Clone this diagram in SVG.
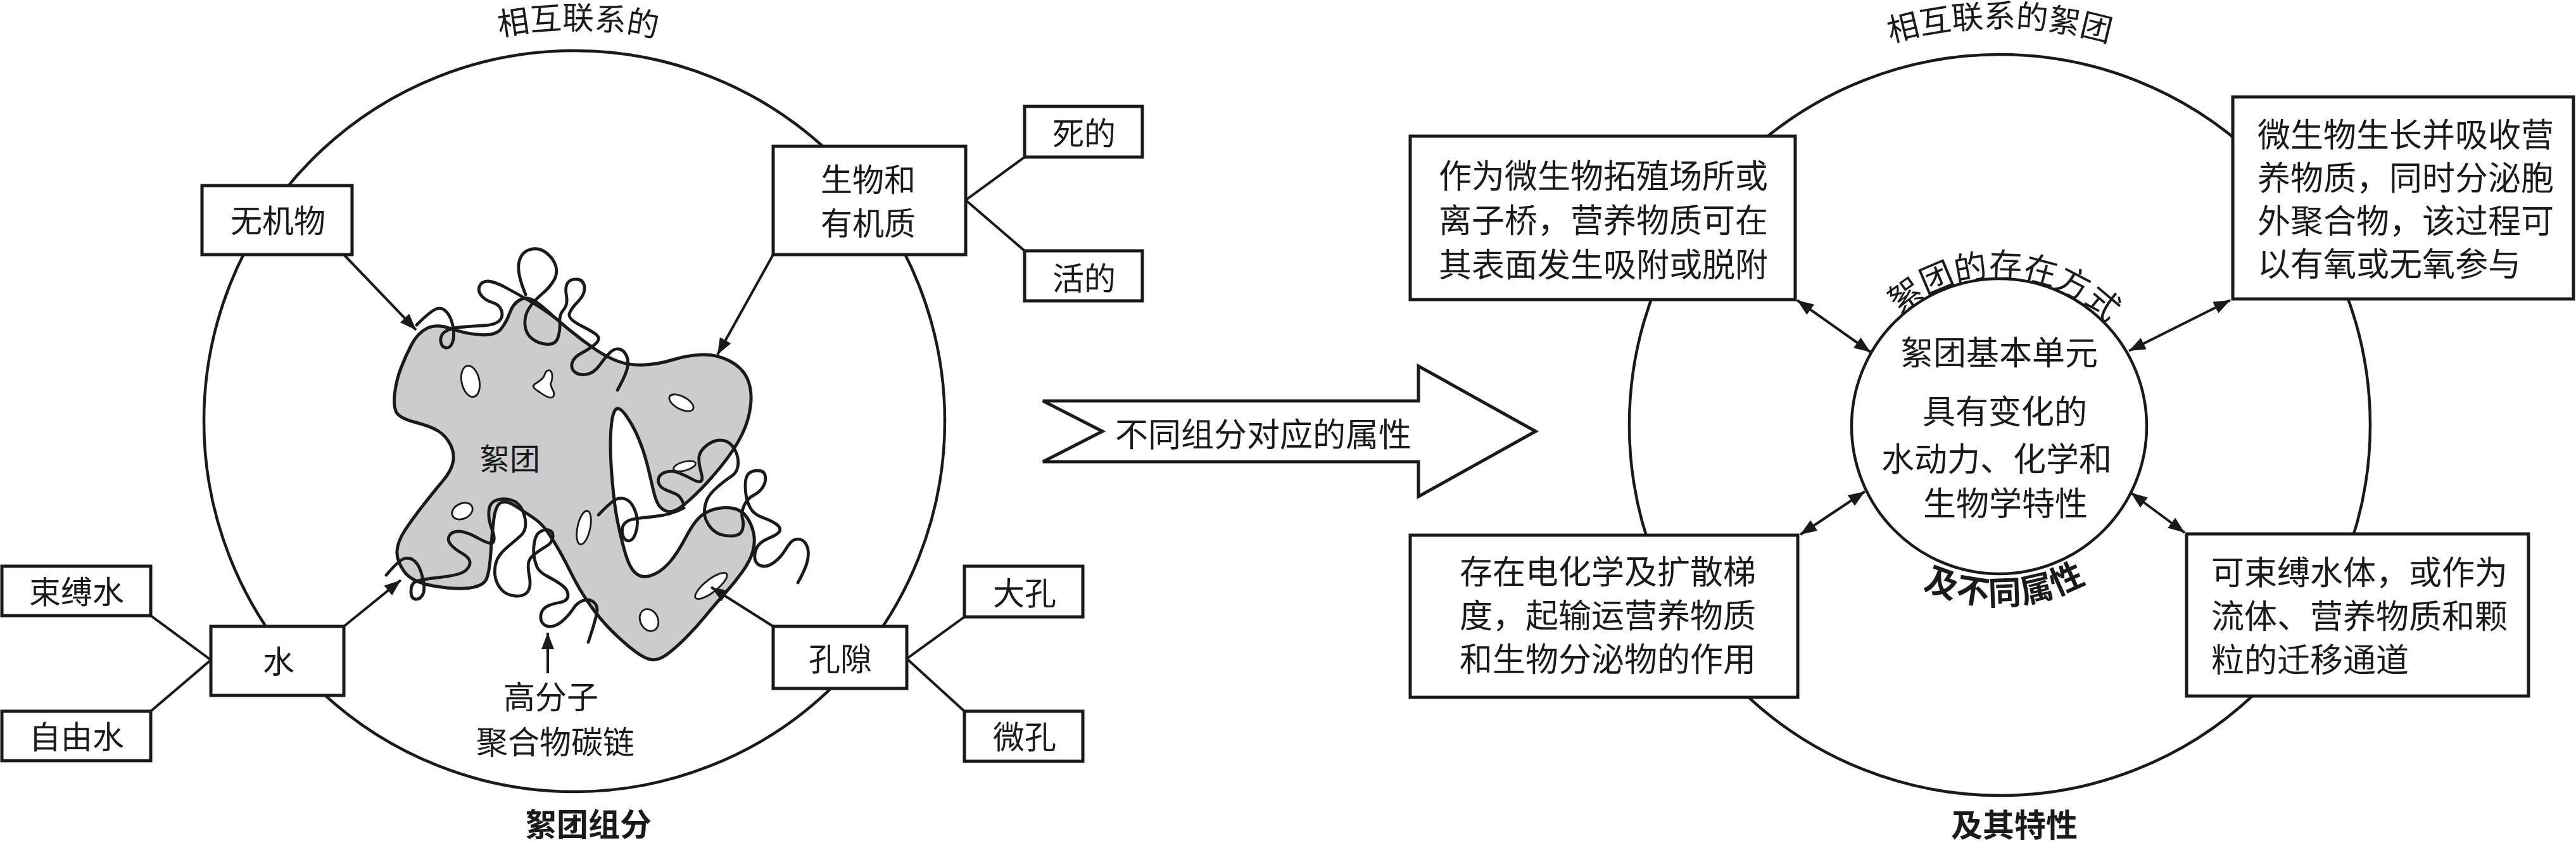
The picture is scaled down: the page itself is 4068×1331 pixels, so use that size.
<svg xmlns="http://www.w3.org/2000/svg" width="4068" height="1331" viewBox="0 0 4068 1331">
<style>
.box{fill:#fff;stroke:#1a1a1a;stroke-width:5}
.ln{stroke:#1a1a1a;stroke-width:4;fill:none}
.circ{fill:none;stroke:#1a1a1a;stroke-width:4.5}
.t{font-family:'Liberation Serif','Noto Sans CJK SC',serif;font-size:50px;fill:#1a1a1a;text-anchor:middle}
.s52{font-size:52px}
.s48{font-size:48px}
.b{font-weight:bold}
.l{text-anchor:start}
.blob{fill:#cccccc;stroke:#1a1a1a;stroke-width:5;stroke-linejoin:round}
.chain{fill:none;stroke:#1a1a1a;stroke-width:4.8;stroke-linecap:round;stroke-linejoin:round}
.hole{fill:#fff;stroke:#1a1a1a;stroke-width:2.8}
</style>
<defs>
<marker id="ah" viewBox="0 0 26 20" refX="26" refY="10" markerWidth="26" markerHeight="20" markerUnits="userSpaceOnUse" orient="auto-start-reverse">
<path d="M0,0 L26,10 L0,20 Z" fill="#1a1a1a"/>
</marker>
<path id="arcL" d="M288,665 A619,619 0 0 1 1526,665"/>
<path id="arcR" d="M2530,671 A628,628 0 0 1 3786,671"/>
<path id="arcIT" d="M2921,673 A236,236 0 0 1 3393,673"/>
<path id="arcIB" d="M2875,673 A282,282 0 0 0 3439,673"/>
</defs>
<rect width="4068" height="1331" fill="#fff"/>

<g id="left-diagram">
<circle class="circ" cx="907" cy="665" r="585"/>
<text class="t"><textPath href="#arcL" startOffset="50.3%">相互联系的</textPath></text>
<text class="t b" x="929" y="1320">絮团组分</text>
</g>

<g id="floc">
<path class="blob" d="M650,544 Q660,525 675,518 T712.5,519 T759,528.5 T791.5,519 T805,494 T820,474 T840,473 T865,491.5 T900,521.5 T940,551.5 T977.5,571 T1017.5,576 T1062.5,568 T1108,560 T1151.5,569.5 T1180,597.5 T1185.5,639 T1171.5,686.5 T1138.5,736.5 T1097.5,781.5 T1068,805 T1050,806 T1038,793.5 T1030.5,769 T1022,733 T1008.5,692.5 T988.5,656 T971.5,647.5 T964.5,684 T966.5,755 T975,822 T986,868.5 T998.5,899 T1013.5,910 T1034.5,906 T1058.5,886.5 T1083.5,847.5 T1108.5,813.5 T1135,802.5 T1161.5,803.5 T1180,817.5 T1190,841.5 T1189,870 T1172.5,902.5 T1145.5,936 T1115,971.5 T1083,1007 T1053.5,1033 T1029,1041.5 T1001,1027 T965.5,995.5 T931,954 T903.5,908 T883,869 T864.5,839.5 T841.5,817 T814,799 T791.5,793.5 T780,818.5 T775,872.5 T767.5,915.5 T740,928.5 T684,925 T638,902 T627,870 T639,838 T668,798 T699.5,759 T715.5,729 T711,701.5 T692,680.5 T655,666.5 T625.5,650 T623.5,620 T633,581.5 T650,544 Z"/>
<ellipse class="hole" cx="743" cy="602" rx="14" ry="25" transform="rotate(-12 743 602)"/>
<path class="hole" d="M865,585 C872,582 874,595 870,605 C868,612 878,618 874,626 C870,631 860,625 852,619 C846,615 838,611 845,606 C852,602 858,598 860,592 C861,588 862,586 865,585 Z"/>
<ellipse class="hole" cx="1076" cy="636" rx="21" ry="10" transform="rotate(28 1076 636)"/>
<ellipse class="hole" cx="730" cy="807" rx="17" ry="12" transform="rotate(-25 730 807)"/>
<ellipse class="hole" cx="922" cy="833" rx="10" ry="27" transform="rotate(12 922 833)"/>
<ellipse class="hole" cx="1081" cy="736" rx="18" ry="7" transform="rotate(-15 1081 736)"/>
<ellipse class="hole" cx="1123" cy="925" rx="31" ry="10" transform="rotate(-38 1123 925)"/>
<ellipse class="hole" cx="1025" cy="979" rx="14" ry="18" transform="rotate(-25 1025 979)"/>
<path class="chain" d="M658,513 Q681,490 690,487.5 T706,493.5 T715.5,517 T714.5,541 T704,549 T696,538.5 T703,523.5 T728,516.5 T763.5,514 T788.5,506.5 T792,490.5 T777.5,477.5 T760,466.5 T757.5,451.5 T770.5,444 T799.5,454.5 T837,475.5 T878,503"/>
<path class="chain" d="M830,465 Q816,431 819.5,414.5 T837,394 T862.5,399 T877.5,419.5 T875,442 T855.5,464.5 T835,487.5 T829,513 T840.5,535 T864.5,543.5 T881.5,532 T884,508.5 T890,489 T894.5,467 T896.5,446.5 T911.5,441 T923,453.5 T912.5,476.5 T899,496 T920,515.5 T945,532.5 T938,545 T917.5,558 T903.5,573 T908,587.5 T926.5,591 T947,576.5 T963,557 T977,551 T988.5,560 T991,579.5 T975,616"/>
<path class="chain" d="M610,908 Q631,883 640,881.5 T656,887 T667.5,912.5 T667.5,939 T656,946 T649,933.5 T656,918.5 T695,911.5 T735,901 T742,887 T729.5,873.5 T712,860 T709.5,846 T724.5,839 T756.5,850.5 T779.5,855 T776.5,834.5 T772,807 T784.5,789.5 T807.5,789.5 T824.5,804.5 T830,827.5 T822,846 T800.5,864.5 T783.5,887.5 T782,910.5 T792,931 T814,941 T833.5,934 T836,910 T835,887 T846,873.5 T863.5,862 T873,848 T867,837 T853,839.5 T844,855.5 T843,876 T847.5,894 T864.5,910 T887.5,924 T897,940 T883,951.5 T862,958.5 T854,972 T859,986 T874,988.5 T892,977 T906,960 T920,948.5 T936,949.5 T943,963 T929,1014"/>
<path class="chain" d="M945,813 Q967,790 975,787.5 T990,789 T1001.5,803 T1006.5,823 T1003.5,842.5 T995,853.5 T986.5,851 T982.5,839.5 T986,827 T998.5,820 T1033.5,815.5 T1080,802"/>
<path class="chain" d="M1080,797 Q1075,783 1067.5,780 T1051.5,773.5 T1040.5,763.5 T1041.5,752 T1052.5,745 T1068.5,745.5 T1095,757.5 T1107.5,747 T1104.5,718.5 T1117,702.5 T1137,695 T1153.5,701 T1163.5,717 T1165,737 T1155,752 T1133.5,768.5 T1116,790 T1112.5,810 T1120,830 T1137,843.5 T1158.5,846 T1172.5,836 T1172.5,818.5 T1175,798.5 T1190,782 T1205,768.5 T1208.5,751.5 T1197,743 T1182,748 T1177,766.5 T1180,790 T1188,806.5 T1206.5,818 T1226.5,828 T1231.5,838 T1213.5,850 T1193.5,868.5 T1193.5,886.5 T1205,894 T1223,887.5 T1240,868.5 T1252,853.5 T1263.5,851.5 T1274,861.5 T1275.5,883.5 T1260,920"/>
<text class="t s48" x="805" y="742">絮团</text>
</g>

<g id="polymer-label">
<text class="t" x="870" y="1119">高分子</text>
<text class="t" x="877" y="1190">聚合物碳链</text>
</g>

<g id="node-inorganic"><rect class="box" x="319" y="293" width="237" height="109"/><text class="t" x="439" y="367">无机物</text></g>
<g id="node-bio"><rect class="box" x="1221" y="231" width="304" height="171"/><text class="t" x="1371" y="302">生物和</text><text class="t" x="1371" y="371">有机质</text></g>
<g id="node-dead"><rect class="box" x="1618" y="168" width="186" height="80"/><text class="t" x="1712" y="229">死的</text></g>
<g id="node-live"><rect class="box" x="1618" y="396" width="186" height="79"/><text class="t" x="1712" y="458">活的</text></g>
<g id="node-water"><rect class="box" x="333" y="989" width="210" height="109"/><text class="t" x="440" y="1063">水</text></g>
<g id="node-bound"><rect class="box" x="3" y="894" width="235" height="78"/><text class="t" x="121" y="953">束缚水</text></g>
<g id="node-free"><rect class="box" x="3" y="1123" width="235" height="78"/><text class="t" x="121" y="1182">自由水</text></g>
<g id="node-pore"><rect class="box" x="1221" y="989" width="211" height="98"/><text class="t" x="1327" y="1059">孔隙</text></g>
<g id="node-macro"><rect class="box" x="1523" y="894" width="187" height="80"/><text class="t" x="1618" y="955">大孔</text></g>
<g id="node-micro"><rect class="box" x="1523" y="1123" width="187" height="79"/><text class="t" x="1618" y="1182">微孔</text></g>

<g id="node-arrow">
<polygon points="1647,633 2240,633 2240,578 2425,681 2240,784 2240,729 1647,729 1741,681" fill="#fff" stroke="#1a1a1a" stroke-width="5" stroke-linejoin="miter"/>
<text class="t s52" x="1995" y="705">不同组分对应的属性</text>
</g>

<g id="right-diagram">
<circle class="circ" cx="3158" cy="671" r="585"/>
<text class="t"><textPath href="#arcR" startOffset="50%">相互联系的絮团</textPath></text>
<text class="t b" x="3181" y="1321">及其特性</text>
</g>

<g id="node-core">
<circle class="circ" cx="3157" cy="673" r="233"/>
<text class="t s52"><textPath href="#arcIT" startOffset="51.3%">絮团的存在方式</textPath></text>
<text class="t s52 b" letter-spacing="2"><textPath href="#arcIB" startOffset="51.2%">及不同属性</textPath></text>
<text class="t s52" x="3157" y="576">絮团基本单元</text>
<text class="t s52" x="3166" y="669">具有变化的</text>
<text class="t s52" x="3153" y="744">水动力、化学和</text>
<text class="t s52" x="3167" y="814">生物学特性</text>
</g>

<g id="node-tl"><rect class="box" x="2227" y="215" width="608" height="258"/>
<text class="t s52 l" x="2272" y="297">作为微生物拓殖场所或</text>
<text class="t s52 l" x="2272" y="367">离子桥，营养物质可在</text>
<text class="t s52 l" x="2272" y="437">其表面发生吸附或脱附</text></g>
<g id="node-tr"><rect class="box" x="3526" y="153" width="538" height="319"/>
<text class="t s52 l" x="3565" y="232">微生物生长并吸收营</text>
<text class="t s52 l" x="3565" y="300">养物质，同时分泌胞</text>
<text class="t s52 l" x="3565" y="368">外聚合物，该过程可</text>
<text class="t s52 l" x="3565" y="436">以有氧或无氧参与</text></g>
<g id="node-bl"><rect class="box" x="2227" y="845" width="612" height="256"/>
<text class="t s52 l" x="2305" y="922">存在电化学及扩散梯</text>
<text class="t s52 l" x="2305" y="991">度，起输运营养物质</text>
<text class="t s52 l" x="2305" y="1060">和生物分泌物的作用</text></g>
<g id="node-br"><rect class="box" x="3453" y="843" width="540" height="256"/>
<text class="t s52 l" x="3492" y="923">可束缚水体，或作为</text>
<text class="t s52 l" x="3492" y="992">流体、营养物质和颗</text>
<text class="t s52 l" x="3492" y="1061">粒的迁移通道</text></g>

<g id="connectors">
<line class="ln" x1="1525" y1="316" x2="1618" y2="248"/>
<line class="ln" x1="1525" y1="316" x2="1618" y2="396"/>
<line class="ln" x1="1432" y1="1040" x2="1523" y2="974"/>
<line class="ln" x1="1432" y1="1040" x2="1523" y2="1123"/>
<line class="ln" x1="333" y1="1042" x2="238" y2="972"/>
<line class="ln" x1="333" y1="1042" x2="238" y2="1123"/>
<line class="ln" x1="544" y1="403" x2="657" y2="521" marker-end="url(#ah)"/>
<line class="ln" x1="1221" y1="402" x2="1133" y2="560" marker-end="url(#ah)"/>
<line class="ln" x1="543" y1="989" x2="633" y2="916" marker-end="url(#ah)"/>
<line class="ln" x1="1221" y1="989" x2="1123" y2="927" marker-end="url(#ah)"/>
<line class="ln" x1="865" y1="1063" x2="865" y2="999" marker-end="url(#ah)"/>
<line class="ln" x1="2838" y1="474" x2="2954" y2="556" marker-start="url(#ah)" marker-end="url(#ah)"/>
<line class="ln" x1="3522" y1="474" x2="3362" y2="554" marker-start="url(#ah)" marker-end="url(#ah)"/>
<line class="ln" x1="2843" y1="844" x2="2945" y2="776" marker-start="url(#ah)" marker-end="url(#ah)"/>
<line class="ln" x1="3450" y1="841" x2="3365" y2="778" marker-start="url(#ah)" marker-end="url(#ah)"/>
</g>
</svg>
